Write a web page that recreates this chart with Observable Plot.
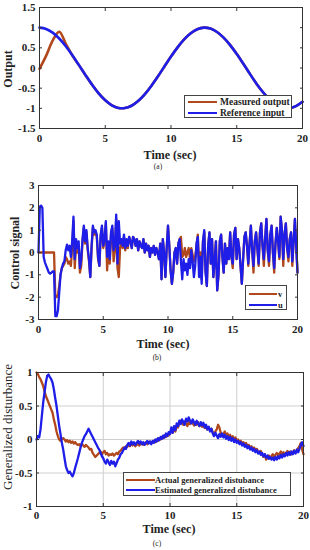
<!DOCTYPE html>
<html><head><meta charset="utf-8">
<script src="https://cdn.jsdelivr.net/npm/d3@7"></script>
<script src="https://cdn.jsdelivr.net/npm/@observablehq/plot@0.6"></script>
<style>
body{margin:0;background:#fff;}
#wrap{position:relative;width:310px;height:550px;overflow:hidden;font-family:"Liberation Serif","Times New Roman",serif;color:#222;}
.svgbox{position:absolute;left:0;}
.lbl{position:absolute;white-space:nowrap;font-weight:bold;font-size:12px;transform:translate(-50%,-50%);}
.ylbl{position:absolute;white-space:nowrap;font-weight:bold;font-size:12px;transform:translate(-50%,-50%) rotate(-90deg);}
.cap{position:absolute;font-size:7.5px;transform:translate(-50%,-50%);}
.legend{position:absolute;border:1px solid #444;background:#fff;font-weight:bold;box-sizing:border-box;}
.sw{position:absolute;height:0;border-top:2.5px solid;}
.lt{position:absolute;transform:translateY(-50%);white-space:nowrap;}
</style>
</head><body>
<div id="wrap"></div>
<script>
// ---------- data ----------
const xTicks = [0, 5, 10, 15, 20];
const yTicksA = [-1.5, -1, -0.5, 0, 0.5, 1, 1.5];
const yTicksB = [-3, -2, -1, 0, 1, 2, 3];
const yTicksC = [-1, -0.5, 0, 0.5, 1];

// Panel (a): samples every 0.5 s
const timeA = [0,0.5,1,1.5,2,2.5,3,3.5,4,4.5,5,5.5,6,6.5,7,7.5,8,8.5,9,9.5,10,10.5,11,11.5,12,12.5,13,13.5,14,14.5,15,15.5,16,16.5,17,17.5,18,18.5,19,19.5,20];
const referenceInput = [1,0.969,0.878,0.732,0.540,0.315,0.071,-0.178,-0.416,-0.628,-0.801,-0.924,-0.990,-0.994,-0.936,-0.821,-0.654,-0.446,-0.211,0.038,0.284,0.512,0.709,0.861,0.960,1.000,0.977,0.893,0.754,0.568,0.347,0.105,-0.146,-0.390,-0.602,-0.780,-0.911,-0.985,-0.997,-0.947,-0.839];
const measuredOutput = [-0.02,0.3,0.68,0.9,0.6,0.31,0.071,-0.178,-0.416,-0.628,-0.801,-0.924,-0.990,-0.994,-0.936,-0.821,-0.654,-0.446,-0.211,0.038,0.284,0.512,0.709,0.861,0.960,1.000,0.977,0.893,0.754,0.568,0.347,0.105,-0.146,-0.390,-0.602,-0.780,-0.911,-0.985,-0.997,-0.947,-0.839];

// Panels (b) and (c): samples every 0.1 s
const sampleStep = 0.1;
const controlU = [
 0.0,2.05,2.1,2.0,-0.2,-0.45,-0.6,-0.75,-0.9,-0.95,
 -0.9,-0.85,-0.85,-2.85,-2.85,-2.6,-1.8,-1.0,-0.7,-0.5,
 -0.4,0.1,0.35,0.1,0.3,-0.2,0.5,1.6,-0.3,0.6,
 0.2,0.5,-0.7,-0.3,0.6,1.2,0.5,1.0,0.2,-0.3,
 -1.1,0.3,1.2,0.9,1.0,0.8,-0.2,-0.6,0.8,1.2,
 0.3,0.6,1.4,-0.2,0.5,-0.3,0.9,1.2,0.1,0.3,
 1.7,-0.5,1.4,0.4,0.6,0.3,0.8,0.2,0.6,0.3,
 0.7,0.5,0.2,0.7,0.6,0.3,0.6,0.1,0.5,0.3,
 0.2,0.6,0.0,0.4,0.1,0.3,-0.2,0.2,0.0,0.3,
 -0.1,0.2,0.0,-0.3,0.4,-1.2,0.6,0.0,-1.1,0.2,
 1.2,0.3,-0.8,-1.4,-0.9,0.0,0.2,-0.5,0.4,0.6,
 -0.4,-1.2,-0.3,-0.8,-0.5,-1.0,-0.3,-0.7,0.1,-0.4,
 -1.1,-0.6,0.4,0.7,-1.1,-0.2,-1.4,0.5,1.0,-0.9,
 -1.5,0.3,0.9,-0.5,0.6,-1.1,-0.4,0.5,-1.7,-1.0,
 0.5,0.8,-0.2,-0.9,0.4,-0.5,0.2,-0.3,0.9,-0.2,
 -0.5,0.8,1.1,-0.3,0.6,0.2,-0.6,-1.4,-0.3,0.7,
 0.9,0.3,-0.5,0.4,1.2,0.1,-0.6,0.5,0.9,0.2,
 -0.5,0.9,1.3,0.3,-0.3,0.6,1.5,0.1,-0.4,0.8,
 1.2,0.0,-0.7,0.4,1.1,0.5,-0.2,1.6,1.0,-0.3,
 0.8,1.3,0.2,-0.2,0.6,0.9,-0.4,0.5,1.5,0.3,
 -0.9];
const controlV = [
 0,0,0,0,0,0,0,0,0,0,
 0,0,0,-2.0,-2.0,-1.9,-1.5,-1.0,-0.7,-0.6,
 -0.5,-0.2,-0.3,-0.5,-0.4,-0.6,0.2,1.4,-0.7,0.4,
 0.0,0.3,-0.9,-0.6,0.5,1.1,0.4,0.9,0.1,-0.4,
 -1.1,0.2,1.1,0.8,0.9,0.7,-0.3,-0.6,0.7,1.1,
 0.2,0.5,1.3,-0.8,0.3,-0.5,0.8,1.1,-0.4,0.1,
 1.5,-0.7,-1.1,0.2,0.5,0.2,0.7,0.1,0.5,0.2,
 0.7,0.5,0.2,0.7,0.6,0.3,0.6,0.1,0.5,0.3,
 0.2,0.6,0.0,0.4,0.1,0.3,-0.2,0.2,0.0,0.3,
 -0.1,0.2,0.0,-0.3,0.4,-1.2,0.6,0.0,-1.1,0.2,
 1.2,0.3,-0.8,-1.4,-0.9,0.0,0.2,-0.5,0.4,0.6,
 0.7,-0.2,-0.1,0.2,-0.2,0.0,0.2,-0.3,0.2,-0.1,
 -0.4,-0.2,0.3,0.8,-0.5,0.0,-1.2,0.5,0.9,-0.8,
 -1.5,0.3,0.9,-0.5,0.6,-1.1,-0.4,0.5,-1.7,-1.0,
 0.5,0.8,-0.2,-0.9,0.4,-0.5,0.2,-0.3,0.9,-0.2,
 -0.7,0.8,1.1,-0.3,0.6,0.2,-0.6,-1.4,-0.3,0.7,
 0.9,0.3,-0.6,0.4,1.2,0.1,-0.9,0.5,0.9,0.2,
 -0.6,0.9,1.3,0.3,-0.6,0.6,1.5,0.1,-0.6,0.8,
 1.2,0.0,-0.9,0.4,1.1,0.5,-0.3,1.6,1.0,-0.6,
 0.8,1.3,0.2,-0.4,0.6,0.9,-0.6,0.5,1.5,0.3,
 -0.9];
const actualDist = [
 1.0,0.98,0.93,0.9,0.85,0.8,0.72,0.65,0.6,0.55,
 0.5,0.45,0.4,0.3,0.22,0.12,0.05,0.0,-0.02,0.01,
 0.02,0.0,-0.03,-0.01,-0.04,-0.02,-0.05,-0.03,-0.06,-0.04,
 -0.07,-0.08,-0.07,-0.1,-0.06,-0.09,-0.11,-0.08,-0.1,-0.12,
 -0.15,-0.14,-0.2,-0.23,-0.26,-0.24,-0.22,-0.2,-0.18,-0.22,
 -0.19,-0.17,-0.22,-0.2,-0.24,-0.22,-0.23,-0.21,-0.24,-0.22,
 -0.2,-0.22,-0.18,-0.17,-0.14,-0.12,-0.14,-0.1,-0.11,-0.08,
 -0.1,-0.07,-0.09,-0.06,-0.1,-0.08,-0.06,-0.09,-0.07,-0.05,
 -0.08,-0.06,-0.04,-0.07,-0.05,-0.03,-0.06,-0.04,-0.02,-0.04,
 0.0,-0.02,0.02,0.0,0.04,0.02,0.06,0.04,0.08,0.06,
 0.1,0.12,0.1,0.15,0.12,0.2,0.18,0.24,0.28,0.25,
 0.22,0.27,0.24,0.2,0.26,0.23,0.27,0.24,0.21,0.25,
 0.22,0.26,0.2,0.23,0.19,0.22,0.17,0.2,0.15,0.18,
 0.13,0.16,0.11,0.08,0.12,0.15,0.22,0.18,0.1,0.05,
 0.08,0.12,0.06,0.09,0.04,0.07,0.02,0.05,0.0,0.03,
 -0.02,0.0,-0.04,-0.02,-0.06,-0.04,-0.08,-0.05,-0.1,-0.08,
 -0.12,-0.1,-0.14,-0.12,-0.16,-0.14,-0.18,-0.2,-0.17,-0.22,
 -0.26,-0.22,-0.3,-0.27,-0.24,-0.28,-0.25,-0.22,-0.26,-0.23,
 -0.2,-0.24,-0.21,-0.18,-0.22,-0.19,-0.23,-0.2,-0.17,-0.21,
 -0.18,-0.22,-0.19,-0.16,-0.2,-0.17,-0.13,-0.1,-0.05,-0.15,
 -0.22];
const estimatedDist = [
 0.0,0.05,0.03,0.15,0.35,0.55,0.7,0.85,0.95,0.97,
 0.93,0.9,0.85,0.75,0.62,0.5,0.35,0.2,0.08,-0.05,
 -0.15,-0.28,-0.4,-0.46,-0.5,-0.48,-0.52,-0.55,-0.5,-0.42,
 -0.35,-0.28,-0.2,-0.12,-0.05,0.0,0.05,0.08,0.12,0.16,
 0.12,0.08,0.04,0.0,-0.04,-0.08,-0.12,-0.15,-0.2,-0.25,
 -0.28,-0.33,-0.36,-0.3,-0.34,-0.38,-0.32,-0.36,-0.33,-0.4,
 -0.35,-0.3,-0.27,-0.22,-0.2,-0.16,-0.12,-0.14,-0.08,-0.05,
 -0.09,-0.03,-0.07,-0.04,-0.08,-0.05,-0.02,-0.06,-0.03,-0.07,
 -0.04,-0.08,-0.05,-0.02,-0.06,-0.03,-0.07,-0.02,-0.05,0.0,
 -0.03,0.02,-0.01,0.04,0.01,0.06,0.03,0.09,0.05,0.11,
 0.08,0.18,0.1,0.2,0.14,0.24,0.2,0.28,0.23,0.3,
 0.26,0.22,0.31,0.27,0.33,0.28,0.24,0.3,0.26,0.22,
 0.28,0.24,0.2,0.26,0.21,0.25,0.18,0.22,0.15,0.19,
 0.12,0.16,0.09,0.05,0.1,0.06,0.02,0.08,0.04,0.09,
 0.03,0.07,0.01,0.05,-0.01,0.04,-0.02,0.02,-0.04,0.0,
 -0.05,-0.02,-0.07,-0.04,-0.09,-0.06,-0.11,-0.08,-0.13,-0.1,
 -0.15,-0.12,-0.17,-0.14,-0.19,-0.16,-0.21,-0.18,-0.23,-0.2,
 -0.25,-0.22,-0.27,-0.24,-0.29,-0.26,-0.3,-0.27,-0.31,-0.26,
 -0.3,-0.25,-0.28,-0.23,-0.27,-0.22,-0.25,-0.2,-0.24,-0.19,
 -0.23,-0.18,-0.22,-0.17,-0.21,-0.15,-0.19,-0.14,-0.08,-0.04,
 -0.1];

const RED = "#b0481c";
const BLUE = "#1e1ee8";

// ---------- helpers ----------
const wrap = document.getElementById("wrap");
function add(cls, text, x, y, extra) {
  const d = document.createElement("div");
  d.className = cls; d.textContent = text;
  d.style.left = x + "px"; d.style.top = y + "px";
  if (extra) Object.assign(d.style, extra);
  wrap.appendChild(d); return d;
}
function legend(x, y, w, h, items, fs, swX, swW, txtX, rowYs) {
  const box = document.createElement("div");
  box.className = "legend";
  Object.assign(box.style, {left: x + "px", top: y + "px", width: w + "px", height: h + "px", fontSize: fs + "px"});
  items.forEach((it, i) => {
    const sw = document.createElement("div");
    sw.className = "sw";
    Object.assign(sw.style, {left: swX + "px", width: swW + "px", top: (rowYs[i] - 1) + "px", borderTopColor: it.color});
    box.appendChild(sw);
    const t = document.createElement("div");
    t.className = "lt"; t.textContent = it.label;
    Object.assign(t.style, {left: txtX + "px", top: rowYs[i] + "px"});
    box.appendChild(t);
  });
  wrap.appendChild(box);
}
function series(times, values) { return values.map((v, i) => ({t: times[i], v})); }
function sampled(values) { return values.map((v, i) => ({t: i * sampleStep, v})); }

function panel({top, height, mt, mb, ml, mr, yDomain, yTicks, grid, lines, tickPad, sw}) {
  const marks = [];
  if (grid) {
    marks.push(Plot.gridX(xTicks.slice(1, -1), {stroke: "#cfcfcf", strokeOpacity: 1}));
    marks.push(Plot.gridY(yTicks.slice(1, -1), {stroke: "#cfcfcf", strokeOpacity: 1}));
  }
  lines.forEach(l => marks.push(Plot.line(l.data, {x: "t", y: "v", stroke: l.color, strokeWidth: sw, curve: l.curve || "linear"})));
  marks.push(Plot.frame({stroke: "#333", strokeWidth: 1}));
  marks.push(Plot.axisX(xTicks, {anchor: "bottom", tickSize: 0, tickPadding: tickPad, tickFormat: d => String(d), label: null}));
  marks.push(Plot.axisY(yTicks, {anchor: "left", tickSize: 0, tickPadding: 4, tickFormat: d => String(d), label: null}));
  marks.push(Plot.axisX(xTicks, {anchor: "bottom", tickSize: -3, tickFormat: () => "", label: null, stroke: "#333"}));
  marks.push(Plot.axisX(xTicks, {anchor: "top", tickSize: -3, tickFormat: () => "", label: null, stroke: "#333"}));
  marks.push(Plot.axisY(yTicks, {anchor: "left", tickSize: -3, tickFormat: () => "", label: null, stroke: "#333"}));
  marks.push(Plot.axisY(yTicks, {anchor: "right", tickSize: -3, tickFormat: () => "", label: null, stroke: "#333"}));
  const svg = Plot.plot({
    width: 310, height, marginTop: mt, marginBottom: mb, marginLeft: ml, marginRight: mr,
    style: {fontFamily: "'Liberation Serif','Times New Roman',serif", fontSize: "11px", fontWeight: "bold", background: "transparent", color: "#222", overflow: "visible"},
    x: {domain: [0, 20], label: null},
    y: {domain: yDomain, label: null},
    marks
  });
  const box = document.createElement("div");
  box.className = "svgbox"; box.style.top = top + "px";
  box.appendChild(svg);
  wrap.appendChild(box);
}

// ---------- panel (a) ----------
panel({top: 0, height: 150, mt: 7, mb: 22, ml: 39, mr: 8, yDomain: [-1.5, 1.5], yTicks: yTicksA, grid: false, tickPad: 6, sw: 2.6,
  lines: [
    {data: series(timeA, measuredOutput), color: RED, curve: "catmull-rom"},
    {data: series(timeA, referenceInput), color: BLUE, curve: "catmull-rom"}
  ]});
add("ylbl", "Output", 8, 69);
add("lbl", "Time (sec)", 170, 155);
add("cap", "(a)", 158, 166);
legend(184, 95, 108, 23, [{label: "Measured output", color: RED}, {label: "Reference input", color: BLUE}], 9.5, 3, 29, 35, [6, 16.5]);

// ---------- panel (b) ----------
panel({top: 175, height: 160, mt: 10, mb: 16, ml: 38, mr: 13, yDomain: [-3, 3], yTicks: yTicksB, grid: false, tickPad: 6, sw: 2.3,
  lines: [
    {data: sampled(controlV), color: RED},
    {data: sampled(controlU), color: BLUE}
  ]});
add("ylbl", "Control signal", 15, 253);
add("lbl", "Time (sec)", 163, 344);
add("cap", "(b)", 157, 357);
legend(245, 285, 42, 25, [{label: "v", color: RED}, {label: "u", color: BLUE}], 8.5, 3, 28, 32, [7.5, 18.5]);

// ---------- panel (c) ----------
panel({top: 362, height: 160, mt: 10, mb: 16, ml: 36, mr: 7, yDomain: [-1, 1], yTicks: yTicksC, grid: true, tickPad: 5, sw: 2.3,
  lines: [
    {data: sampled(actualDist), color: RED},
    {data: sampled(estimatedDist), color: BLUE}
  ]});
add("ylbl", "Generalized disturbance", 8, 427, {fontWeight: "normal", fontSize: "13px"});
add("lbl", "Time (sec)", 169, 529);
add("cap", "(c)", 157, 543);
legend(123, 472, 168, 24, [{label: "Actual generalized distubance", color: RED}, {label: "Estimated generalized distubance", color: BLUE}], 8.5, 2, 29, 31, [6.5, 17]);
</script>
</body></html>
